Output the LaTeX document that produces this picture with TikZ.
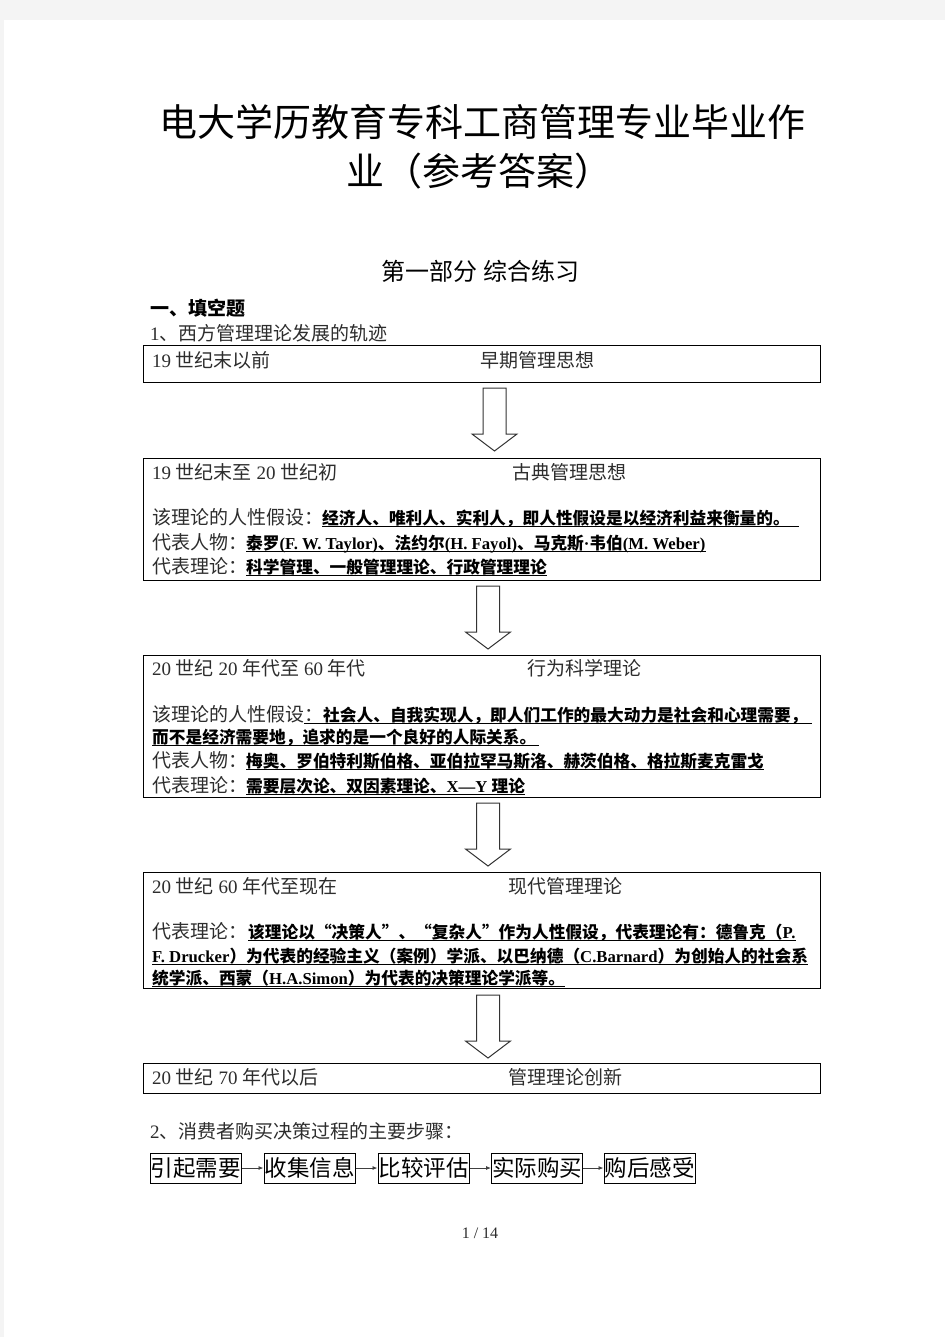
\documentclass[tikz,border=0pt]{standalone}
\usepackage{fontspec}
\setmainfont{Liberation Serif}
\newfontfamily\zh{Noto Sans CJK SC}
\newfontfamily\tmb{Liberation Serif Bold}
\usetikzlibrary{arrows.meta,calc}
\newcommand\fs[1]{\fontsize{#1pt}{#1pt}\selectfont}
\newcommand\lat[1]{{\rmfamily #1}}
\newcommand\latb[1]{{\tmb #1}}
\definecolor{pagebg}{RGB}{244,244,244}
\definecolor{txtgray}{RGB}{45,45,45}
\begin{document}
\begin{tikzpicture}[x=1pt,y=-1pt,
  txt/.style={anchor=base west, inner sep=0pt, font=\zh\fs{19}, text=txtgray},
  bt/.style={anchor=base west, inner sep=0pt, font=\zh\bfseries\fs{16.7}, text=black},
  panel/.style={draw=black, line width=1.2pt, anchor=north west, minimum width=677pt, inner sep=0pt},
  uline/.style={line width=1.1pt, black},
  flowbox/.style={draw=black, line width=1pt, minimum width=91pt, minimum height=30pt, inner sep=0pt, font=\zh\fs{22.5}},
  flowarrow/.style={draw=black!75, line width=0.8pt, -{Latex[length=5pt,width=4pt]}},
  downarrow/.pic={\draw[line width=1pt, black!80] (-11.5,0) -- (11.5,0) -- (11.5,46) -- (22.5,46) -- (0,63) -- (-22.5,46) -- (-11.5,46) -- cycle;}
]
\useasboundingbox (0,0) rectangle (945,1337);
\fill[pagebg] (0,0) rectangle (945,1337);
\fill[white] (4,20) rectangle (945,1337);

% titles
\node[anchor=base, inner sep=0pt, font=\zh\fs{38}] (title1) at (482,137) {电大学历教育专科工商管理专业毕业作};
\node[anchor=base, inner sep=0pt, font=\zh\fs{38}] (title2) at (479,186) {业（参考答案）};
\node[anchor=base, inner sep=0pt, font=\zh\fs{24}] (part) at (480.5,280) {第一部分 综合练习};
\node[txt, font=\zh\bfseries\fs{19}, text=black] (sec) at (150,315) {一、填空题};
\node[txt] (q1) at (150,340) {\lat{1}、西方管理理论发展的轨迹};

% panel 1
\node[panel, minimum height=37pt] (p1) at (143,345) {};
\node[txt] (p1a) at (152,367) {\lat{19 }世纪末以前};
\node[txt] (p1b) at (480,367) {早期管理思想};
\pic at (494.5,388) {downarrow};

% panel 2
\node[panel, minimum height=122pt] (p2) at (143,458) {};
\node[txt] (p2a) at (152,479) {\lat{19 }世纪末至\lat{ 20 }世纪初};
\node[txt] (p2b) at (512,479) {古典管理思想};
\node[txt] (p2c) at (152,524) {该理论的人性假设：};
\node[bt] (u22) at (322,524) {经济人、唯利人、实利人，即人性假设是以经济利益来衡量的。};
\node[txt] (p2d) at (152,549) {代表人物：};
\node[bt] (u23) at (246,549) {泰罗\latb{(F. W. Taylor)}、法约尔\latb{(H. Fayol)}、马克斯\latb{·}韦伯\latb{(M. Weber)}};
\node[txt] (p2e) at (152,573) {代表理论：};
\node[bt] (u24) at (246,573) {科学管理、一般管理理论、行政管理理论};
\draw[uline] ($(u22.base west)+(0,2.5)$) -- ($(u22.base east)+(9,2.5)$);
\draw[uline] ($(u23.base west)+(0,2.5)$) -- ($(u23.base east)+(0,2.5)$);
\draw[uline] ($(u24.base west)+(0,2.5)$) -- ($(u24.base east)+(0,2.5)$);
\pic at (488,586) {downarrow};

% panel 3
\node[panel, minimum height=142pt] (p3) at (143,655) {};
\node[txt] (p3a) at (152,675) {\lat{20 }世纪\lat{ 20 }年代至\lat{ 60 }年代};
\node[txt] (p3b) at (527,675) {行为科学理论};
\node[txt] (p3c) at (152,721) {该理论的人性假设};
\node[bt] (u32) at (304,721) {{\mdseries\fs{19}\color{txtgray}：}社会人、自我实现人，即人们工作的最大动力是社会和心理需要，};
\node[bt] (u33) at (152,743) {而不是经济需要地，追求的是一个良好的人际关系。};
\node[txt] (p3d) at (152,767) {代表人物：};
\node[bt] (u34) at (246,767) {梅奥、罗伯特利斯伯格、亚伯拉罕马斯洛、赫茨伯格、格拉斯麦克雷戈};
\node[txt] (p3e) at (152,792) {代表理论：};
\node[bt] (u35) at (246,792) {需要层次论、双因素理论、\latb{X—Y }理论};
\draw[uline] ($(u32.base west)+(0,2.5)$) -- ($(u32.base east)+(4,2.5)$);
\draw[uline] ($(u33.base west)+(0,2.5)$) -- ($(u33.base east)+(2,2.5)$);
\draw[uline] ($(u34.base west)+(0,2.5)$) -- ($(u34.base east)+(0,2.5)$);
\draw[uline] ($(u35.base west)+(0,2.5)$) -- ($(u35.base east)+(0,2.5)$);
\pic at (488,803) {downarrow};

% panel 4
\node[panel, minimum height=116pt] (p4) at (143,872) {};
\node[txt] (p4a) at (152,893) {\lat{20 }世纪\lat{ 60 }年代至现在};
\node[txt] (p4b) at (508,893) {现代管理理论};
\node[txt] (p4c) at (152,938) {代表理论：};
\node[bt] (u42) at (248,938) {该理论以“决策人”、“复杂人”作为人性假设，代表理论有：德鲁克（\latb{P.}};
\node[bt] (u43) at (152,962) {\latb{F. Drucker}）为代表的经验主义（案例）学派、以巴纳德（\latb{C.Barnard}）为创始人的社会系};
\node[bt] (u44) at (152,984) {统学派、西蒙（\latb{H.A.Simon}）为代表的决策理论学派等。};
\draw[uline] ($(u42.base west)+(0,2.5)$) -- ($(u42.base east)+(0,2.5)$);
\draw[uline] ($(u43.base west)+(0,2.5)$) -- ($(u43.base east)+(0,2.5)$);
\draw[uline] ($(u44.base west)+(0,2.5)$) -- ($(u44.base east)+(0,2.5)$);
\pic at (488,995) {downarrow};

% panel 5
\node[panel, minimum height=30pt] (p5) at (143,1063) {};
\node[txt] (p5a) at (152,1084) {\lat{20 }世纪\lat{ 70 }年代以后};
\node[txt] (p5b) at (508,1084) {管理理论创新};

% question 2
\node[txt] (q2) at (150,1138) {\lat{2}、消费者购买决策过程的主要步骤：};
\node[flowbox] (f1) at (195.5,1168) {引起需要};
\node[flowbox] (f2) at (309.5,1168) {收集信息};
\node[flowbox] (f3) at (423.5,1168) {比较评估};
\node[flowbox] (f4) at (537,1168) {实际购买};
\node[flowbox] (f5) at (649.5,1168) {购后感受};
\draw[flowarrow] (f1) -- (f2);
\draw[flowarrow] (f2) -- (f3);
\draw[flowarrow] (f3) -- (f4);
\draw[flowarrow] (f4) -- (f5);

% page number
\node[anchor=base, inner sep=0pt, font=\rmfamily\fs{16}, text=txtgray] (pg) at (480,1238) {1 / 14};
\end{tikzpicture}
\end{document}
